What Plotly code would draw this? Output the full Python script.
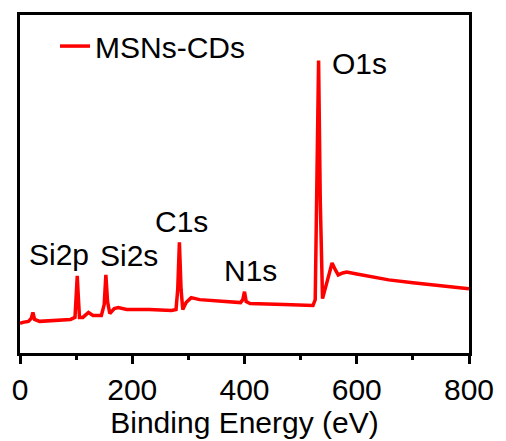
import plotly.graph_objects as go

# Binding energy (eV) and intensity (a.u.)
energy = [0, 5, 15, 20, 23, 26, 35, 60, 90, 98, 100, 102, 104, 106, 112, 122, 130, 145,
          150, 153, 156, 160, 168, 175, 190, 230, 270, 278, 281, 284, 287, 290, 296, 305,
          320, 360, 393, 397, 400, 403, 410, 470, 522, 526, 529, 532, 535, 538, 539, 548,
          556, 562, 567, 575, 582, 600, 630, 657, 700, 750, 800]
intensity = [30, 31, 32, 35, 41, 34, 32, 33, 34, 36, 54, 78, 56, 36, 36, 41, 38, 38,
             49, 79, 52, 40, 45, 46, 44, 44, 43, 44, 64, 112, 64, 44, 51, 56,
             54, 52, 51, 54, 62, 52, 50, 49, 48, 54, 154, 296, 154, 70, 55, 74,
             91, 84, 79, 81, 82, 80, 77, 74, 71, 68, 65]

series_name = "MSNs-CDs"
peak_labels = ["Si2p", "Si2s", "C1s", "N1s", "O1s"]
label_x = [70, 195, 287, 411, 604]
label_y = [100, 99, 133, 83, 293]

x_ticks = [0, 200, 400, 600, 800]

FONT = "Liberation Sans, Arial, sans-serif"
RED = "#ff0000"

fig = go.Figure()
fig.add_trace(go.Scatter(x=energy, y=intensity, mode="lines", name=series_name,
                         line=dict(color=RED, width=3.5)))

for t, lx, ly in zip(peak_labels, label_x, label_y):
    fig.add_annotation(x=lx, y=ly, text=t, showarrow=False, xref="x", yref="y",
                       font=dict(family=FONT, size=30, color="black"),
                       xanchor="center", yanchor="middle")

fig.update_layout(
    width=506, height=441,
    margin=dict(l=20, r=32, t=12, b=87),
    paper_bgcolor="white", plot_bgcolor="white",
    font=dict(family=FONT, size=30, color="black"),
    showlegend=True,
    legend=dict(x=0.078, y=0.985, xanchor="left", yanchor="top",
                bgcolor="rgba(0,0,0,0)", font=dict(family=FONT, size=30),
                itemwidth=30, tracegroupgap=0),
    xaxis=dict(range=[0, 800], tickvals=x_ticks, ticktext=[str(v) for v in x_ticks],
               showline=True, linecolor="black", linewidth=2.5, mirror=True,
               ticks="outside", ticklen=8, tickwidth=2.5, tickcolor="black",
               minor=dict(dtick=100, ticks="outside", ticklen=4, tickwidth=2.5, tickcolor="black"),
               showgrid=False, zeroline=False,
               tickfont=dict(family=FONT, size=30),
               title=dict(text="Binding Energy (eV)", font=dict(family=FONT, size=30), standoff=2)),
    yaxis=dict(range=[0, 342], showline=True, linecolor="black", linewidth=2.5, mirror=True,
               showticklabels=False, ticks="", showgrid=False, zeroline=False),
)

fig.write_html("out.html")
